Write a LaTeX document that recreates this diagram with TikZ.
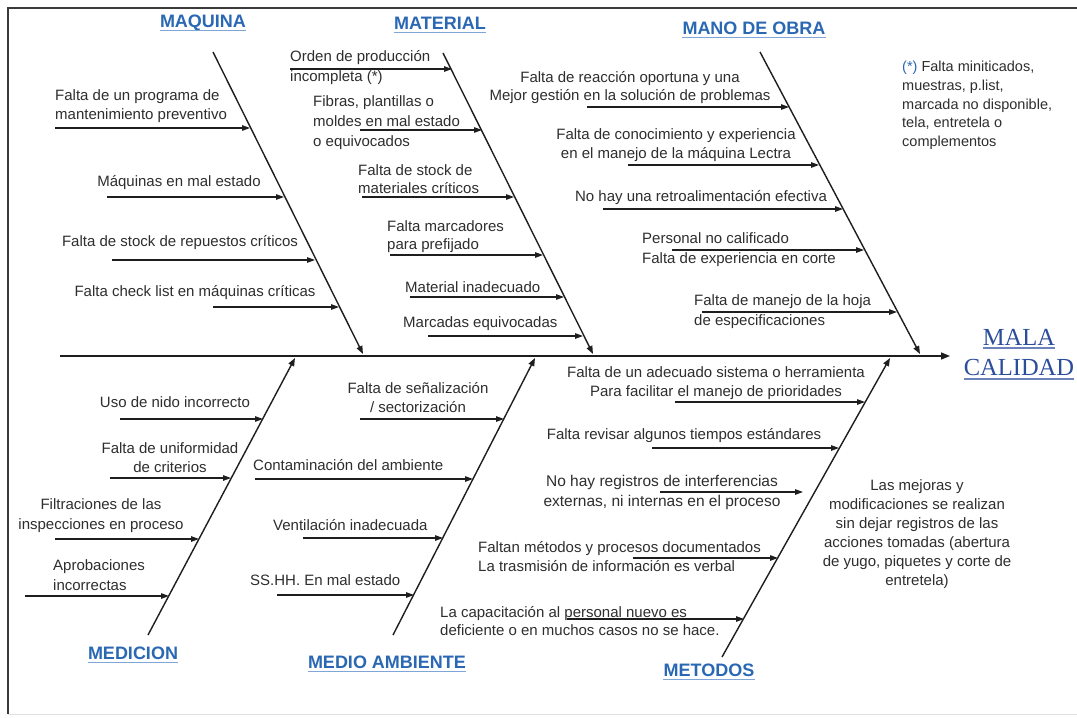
\documentclass[tikz,border=0pt]{standalone}
\usepackage{fontspec}
\setmainfont{Liberation Sans}
\newfontfamily\effectface{Liberation Serif}
\usetikzlibrary{arrows.meta}

\definecolor{ink}{HTML}{1E1E1E}
\definecolor{txt}{HTML}{2E2E2E}
\definecolor{catblue}{HTML}{2A68B4}
\definecolor{catline}{HTML}{7FA6D6}
\definecolor{effblue}{HTML}{2C4C9C}
\definecolor{framecol}{HTML}{3A3A3A}

\tikzset{
  cause/.style={font=\fontsize{15}{18.5}\selectfont, text=txt, inner sep=0pt},
  bone/.style={draw=ink, line width=1.4pt, -{Triangle[length=8pt,width=6pt]}},
  sub/.style={draw=ink, line width=1.2pt, -{Triangle[length=8pt,width=5.5pt]}},
  cat/.style={font=\bfseries\fontsize{18}{20}\selectfont, text=catblue, inner sep=0pt},
  catrule/.style={draw=catline, line width=1.2pt},
  effect/.style={font=\effectface\fontsize{24.5}{31}\selectfont, text=effblue, inner sep=0pt},
  effrule/.style={draw=effblue!70, line width=1.3pt},
}

% horizontal cause arrow: name, start x, end x, height
\newcommand\causearrow[4]{%
  \coordinate (#1s) at (#2,#4);
  \coordinate (#1e) at (#3,#4);
  \draw[sub] (#1s) -- (#1e);}

\begin{document}
\begin{tikzpicture}[x=1pt,y=-1pt]
\useasboundingbox (0,0) rectangle (1077,718);
\fill[white] (0,0) rectangle (1077,718);

% frame
\coordinate (fTL) at (8,8);
\coordinate (fTR) at (1077,8);
\coordinate (fBL) at (8,714);
\coordinate (fBR) at (1077,714);
\draw[framecol, line width=1.5pt] (fBL) -- (fTL) -- (fTR);
\draw[black!12, line width=1pt] (fBL) -- (fBR);

% spine
\coordinate (spS) at (60,356);
\coordinate (spE) at (950,356);
\draw[draw=ink, line width=1.6pt, -{Triangle[length=9pt,width=7pt]}] (spS) -- (spE);

% main bones
\coordinate (maqA) at (213,52);  \coordinate (maqB) at (363,354);
\coordinate (matA) at (443,53);  \coordinate (matB) at (593,354);
\coordinate (manA) at (760,52);  \coordinate (manB) at (920,354);
\coordinate (medA) at (148,635); \coordinate (medB) at (295,358);
\coordinate (ambA) at (393,635); \coordinate (ambB) at (535,358);
\coordinate (metA) at (722,657); \coordinate (metB) at (890,358);
\draw[bone] (maqA) -- (maqB);
\draw[bone] (matA) -- (matB);
\draw[bone] (manA) -- (manB);
\draw[bone] (medA) -- (medB);
\draw[bone] (ambA) -- (ambB);
\draw[bone] (metA) -- (metB);

% category labels
\node[cat] (maq) at (203,23) {MAQUINA};
\node[cat] (mat) at (440,23) {MATERIAL};
\node[cat] (man) at (754,28) {MANO DE OBRA};
\node[cat] (med) at (133,653) {MEDICION};
\node[cat] (amb) at (387,662) {MEDIO AMBIENTE};
\node[cat] (met) at (709,670) {METODOS};
\foreach \n in {maq,mat,man,med,amb,met}
  \draw[catrule] ([yshift=-3pt]\n.base west) -- ([yshift=-3pt]\n.base east);

% effect
\node[effect] (eff1) at (1019,337) {MALA};
\node[effect] (eff2) at (1019,368) {CALIDAD};
\draw[effrule] ([yshift=-3pt]eff1.base west) -- ([yshift=-3pt]eff1.base east);
\draw[effrule] ([yshift=-3pt]eff2.base west) -- ([yshift=-3pt]eff2.base east);

% MAQUINA
\node[cause, anchor=west, align=left] (m1) at (55,106) {Falta de un programa de\\mantenimiento preventivo};
\causearrow{m1}{55}{250}{128}
\node[cause] (m2) at (179,183) {Máquinas en mal estado};
\causearrow{m2}{107}{284}{197}
\node[cause] (m3) at (180,243) {Falta de stock de repuestos críticos};
\causearrow{m3}{112}{315}{260}
\node[cause] (m4) at (195,293) {Falta check list en máquinas críticas};
\causearrow{m4}{213}{339}{307}

% MATERIAL
\node[cause, anchor=west, align=left, font=\fontsize{15}{20}\selectfont] (t1) at (290,68) {Orden de producción\\incompleta (*)};
\causearrow{t1}{290}{452}{69}
\node[cause, anchor=west, align=left, font=\fontsize{15}{20}\selectfont] (t2) at (313,123) {Fibras, plantillas o\\moldes en mal estado\\o equivocados};
\causearrow{t2}{360}{482}{130}
\node[cause, anchor=west, align=left] (t3) at (358,179) {Falta de stock de\\materiales críticos};
\causearrow{t3}{362}{514}{197}
\node[cause, anchor=west, align=left] (t4) at (387,236.5) {Falta marcadores\\para prefijado};
\causearrow{t4}{390}{543}{255}
\node[cause, anchor=west] (t5) at (405,287) {Material inadecuado};
\causearrow{t5}{410}{564}{297}
\node[cause, anchor=west] (t6) at (403,324) {Marcadas equivocadas};
\causearrow{t6}{428}{583}{336}

% MANO DE OBRA
\node[cause, align=center] (o1) at (630,87.5) {Falta de reacción oportuna y una\\Mejor gestión en la solución de problemas};
\causearrow{o1}{587}{789}{107}
\node[cause, align=center] (o2) at (676,145) {Falta de conocimiento y experiencia\\en el manejo de la máquina Lectra};
\causearrow{o2}{628}{819}{165}
\node[cause] (o3) at (701,198) {No hay una retroalimentación efectiva};
\causearrow{o3}{603}{843}{209}
\node[cause, anchor=west, align=left, font=\fontsize{15}{20}\selectfont] (o4) at (642,250) {Personal no calificado\\Falta de experiencia en corte};
\causearrow{o4}{672}{864}{250}
\node[cause, anchor=west, align=left, font=\fontsize{15}{20}\selectfont] (o5) at (694,312) {Falta de manejo de la hoja\\de especificaciones};
\causearrow{o5}{702}{897}{312}

% note on incomplete orders
\node[cause, anchor=west, align=left, font=\fontsize{14.5}{18.7}\selectfont] (nota) at (902,105.5)
  {\textcolor{catblue}{(*)} Falta miniticados,\\muestras, p.list,\\marcada no disponible,\\tela, entretela o\\complementos};

% MEDICION
\node[cause] (d1) at (175,402) {Uso de nido incorrecto};
\causearrow{d1}{120}{263}{419}
\node[cause, align=center] (d2) at (170,457.5) {Falta de uniformidad\\de criterios};
\causearrow{d2}{110}{231}{478}
\node[cause, align=center, font=\fontsize{15}{20}\selectfont] (d3) at (101,516) {Filtraciones de las\\inspecciones en proceso};
\causearrow{d3}{55}{199}{539}
\node[cause, anchor=west, align=left, font=\fontsize{15}{20}\selectfont] (d4) at (53,575) {Aprobaciones\\incorrectas};
\causearrow{d4}{25}{169}{596}

% MEDIO AMBIENTE
\node[cause, align=center] (a1) at (418,397.5) {Falta de señalización\\/ sectorización};
\causearrow{a1}{360}{504}{419}
\node[cause, anchor=west] (a2) at (253,465) {Contaminación del ambiente};
\causearrow{a2}{255}{473}{479}
\node[cause, anchor=west] (a3) at (273,525) {Ventilación inadecuada};
\causearrow{a3}{303}{443}{538}
\node[cause, anchor=west] (a4) at (250,580) {SS.HH. En mal estado};
\causearrow{a4}{277}{414}{595}

% METODOS
\node[cause, align=center] (e1) at (716,383) {Falta de un adecuado sistema o herramienta\\Para facilitar el manejo de prioridades};
\causearrow{e1}{675}{865}{402}
\node[cause] (e2) at (684,436) {Falta revisar algunos tiempos estándares};
\causearrow{e2}{652}{839}{448}
\node[cause, align=center, font=\fontsize{15.5}{20.5}\selectfont] (e3) at (662,492.5) {No hay registros de interferencias\\externas, ni internas en el proceso};
\causearrow{e3}{660}{803}{492}
\node[cause, anchor=west, align=left, font=\fontsize{15}{19.5}\selectfont] (e4) at (478,556.5) {Faltan métodos y procesos documentados\\La trasmisión de información es verbal};
\causearrow{e4}{633}{778}{558}
\node[cause, anchor=west, align=left] (e5) at (440,621) {La capacitación al personal nuevo es\\deficiente o en muchos casos no se hace.};
\causearrow{e5}{567}{744}{619}

% note on undocumented changes
\node[cause, align=center, font=\fontsize{15}{19}\selectfont] (nota2) at (917,534.5)
  {Las mejoras y\\modificaciones se realizan\\sin dejar registros de las\\acciones tomadas (abertura\\de yugo, piquetes y corte de\\entretela)};
\end{tikzpicture}
\end{document}
